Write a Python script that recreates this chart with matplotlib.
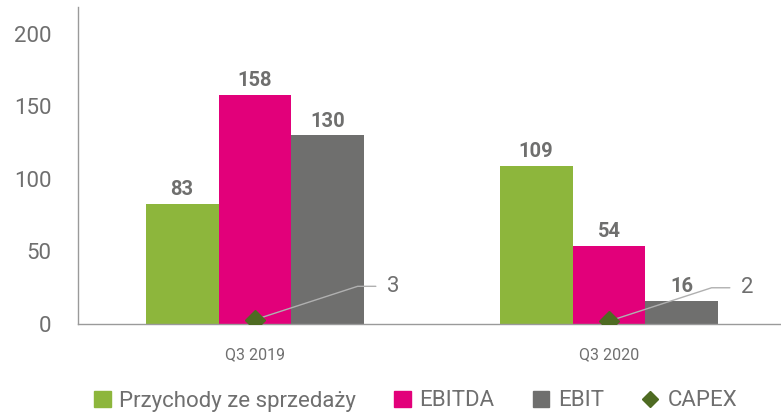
import matplotlib
matplotlib.use("Agg")
import matplotlib.pyplot as plt
from matplotlib.lines import Line2D
from matplotlib.patches import Patch
import numpy as np

plt.rcParams['font.family'] = ['Roboto', 'DejaVu Sans']

categories = ["Q3 2019", "Q3 2020"]
przychody = [83, 109]
ebitda = [158, 54]
ebit = [130, 16]
capex = [3, 2]
series_names = ["Przychody ze sprzedaży", "EBITDA", "EBIT", "CAPEX"]
yticks = [0, 50, 100, 150, 200]

c_green = "#8DB63C"
c_pink = "#E2007A"
c_gray = "#6F6F6E"
c_dgreen = "#4E6B22"
c_text = "#6F6F6F"

fig = plt.figure(figsize=(7.81, 4.16), dpi=100)
ax = fig.add_axes([78/781, (416-324)/416, 1 - 78/781, (324-7)/416])

x = np.arange(len(categories))
w = 0.206
for off, vals, col in [(-w, przychody, c_green), (0, ebitda, c_pink), (w, ebit, c_gray)]:
    ax.bar(x + off, vals, width=w, color=col, zorder=2)
    for xi, v in zip(x + off, vals):
        ax.annotate(str(v), (xi, v), xytext=(0, 3.5), textcoords='offset points',
                    ha='center', va='bottom', fontsize=14.5, fontweight='bold', color=c_gray)

ax.plot(x, capex, linestyle='none', marker='D', markersize=10, color=c_dgreen, zorder=4)
for xi, v in zip(x, capex):
    ax.annotate(str(v), (xi, v), xytext=(95, 24), textcoords='offset points',
                ha='left', va='center', fontsize=16, color=c_text,
                arrowprops=dict(arrowstyle='-', color='#B0B0B0', lw=1.0,
                                relpos=(0, 0.5), shrinkA=6, shrinkB=0,
                                connectionstyle='angle,angleA=0,angleB=18,rad=0'))

ax.set_xlim(-0.5, 1.5 - 5/354)
ax.set_ylim(0, 218.6)
ax.set_yticks(yticks)
ax.set_xticks(x)
ax.set_xticklabels(categories)
ax.tick_params(axis='y', length=0, pad=19, labelsize=16, labelcolor=c_text)
ax.tick_params(axis='x', length=0, pad=17, labelsize=11.5, labelcolor=c_text)
for s in ['top', 'right']:
    ax.spines[s].set_visible(False)
for s in ['left', 'bottom']:
    ax.spines[s].set_color('#9A9A9A')
    ax.spines[s].set_linewidth(1.0)

handles = [Patch(color=c_green), Patch(color=c_pink), Patch(color=c_gray),
           Line2D([], [], linestyle='none', marker='D', color=c_dgreen, markersize=8)]
fig.legend(handles, series_names, loc='center', bbox_to_anchor=(0.532, (416-401)/416),
           ncol=4, frameon=False, fontsize=16, labelcolor=c_text,
           handlelength=0.75, handleheight=0.75, handletextpad=0.4, columnspacing=1.7)

fig.savefig("out.png", dpi=100)
